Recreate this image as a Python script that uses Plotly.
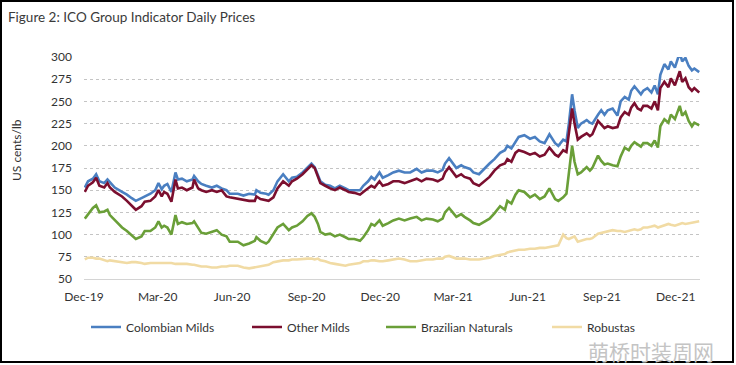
import plotly.graph_objects as go

# ---------------- data ----------------
dates = [
    "2019-12-02","2019-12-06","2019-12-12","2019-12-16","2019-12-20","2019-12-26","2019-12-30",
    "2020-01-02","2020-01-08","2020-01-17","2020-01-23","2020-01-29","2020-02-03","2020-02-10",
    "2020-02-14","2020-02-21","2020-02-27","2020-03-02","2020-03-06","2020-03-09","2020-03-13",
    "2020-03-18","2020-03-23","2020-03-26","2020-03-31","2020-04-06","2020-04-13","2020-04-15",
    "2020-04-20","2020-04-24","2020-04-30","2020-05-07","2020-05-13","2020-05-19","2020-05-25",
    "2020-05-29","2020-06-08","2020-06-15","2020-06-22","2020-06-29","2020-07-01","2020-07-06",
    "2020-07-13","2020-07-16","2020-07-22","2020-07-27","2020-08-03","2020-08-10","2020-08-14",
    "2020-08-20","2020-08-27","2020-09-02",
    "2020-09-07","2020-09-11","2020-09-15","2020-09-18","2020-09-24","2020-09-30","2020-10-06",
    "2020-10-12","2020-10-19","2020-10-23","2020-10-30","2020-11-06","2020-11-10","2020-11-16",
    "2020-11-20","2020-11-24","2020-11-30","2020-12-04","2020-12-11","2020-12-17","2020-12-24",
    "2020-12-31","2021-01-07","2021-01-15","2021-01-21","2021-01-27","2021-02-04","2021-02-10",
    "2021-02-16","2021-02-19","2021-02-24","2021-03-01","2021-03-05","2021-03-11","2021-03-15",
    "2021-03-22","2021-03-26","2021-04-02","2021-04-09","2021-04-15","2021-04-21","2021-04-28",
    "2021-05-04","2021-05-07","2021-05-12","2021-05-17","2021-05-21","2021-05-28","2021-06-04",
    "2021-06-10","2021-06-16",
    "2021-06-22","2021-06-28","2021-07-05","2021-07-09","2021-07-15","2021-07-19","2021-07-22",
    "2021-07-26","2021-07-29","2021-08-02","2021-08-06","2021-08-13","2021-08-17","2021-08-20",
    "2021-08-27","2021-08-31","2021-09-04","2021-09-08","2021-09-14","2021-09-20","2021-09-24",
    "2021-09-29","2021-10-04","2021-10-07","2021-10-11","2021-10-15","2021-10-19","2021-10-22",
    "2021-10-27","2021-11-01","2021-11-05","2021-11-09","2021-11-12","2021-11-17","2021-11-22",
    "2021-11-25","2021-11-30","2021-12-06","2021-12-09","2021-12-13","2021-12-17","2021-12-21",
    "2021-12-24","2021-12-30",
]

colombian_milds = [
    153,160,163,168,160,158,162,159,153,148,145,141,138,141,143,146,150,158,151,155,157,148,170,162,163,160,
    162,166,160,157,155,153,155,152,150,146,146,144,146,145,150,147,146,145,150,160,168,160,164,165,170,176,
    180,176,168,160,156,155,152,155,152,150,150,150,155,160,165,162,170,164,167,170,172,170,170,174,170,172,
    172,170,173,180,186,180,175,178,176,174,170,168,175,180,185,192,195,200,197,205,210,212,208,210,205,
    203,213,203,200,207,205,225,258,240,220,225,229,226,225,235,240,235,240,242,234,250,255,252,262,267,262,
    258,262,265,260,268,258,280,292,286,295,288,305,295,299,290,285,287,283,
]
other_milds = [
    148,155,159,164,155,153,158,153,148,143,138,133,128,132,137,138,143,150,143,148,146,137,162,152,153,150,
    153,162,152,150,148,150,148,150,143,142,140,139,138,138,143,140,138,138,142,152,160,155,160,163,168,174,
    178,175,165,158,155,152,150,153,150,148,147,145,148,152,155,153,160,155,157,160,160,158,160,163,160,163,
    162,160,163,170,176,170,165,168,165,163,158,155,160,165,172,178,180,185,182,192,195,193,190,192,188,
    190,198,190,188,195,193,215,242,225,207,210,214,211,213,228,224,220,222,220,221,232,238,235,243,248,242,
    240,245,245,242,250,240,265,272,266,276,268,284,272,276,266,262,265,260,
]
brazilian_naturals = [
    118,123,130,133,125,126,128,122,116,108,104,99,95,98,104,104,108,115,108,110,108,100,122,112,114,112,
    113,115,108,102,101,103,105,100,98,92,92,88,90,93,97,93,90,92,100,108,112,105,108,110,115,121,
    124,120,112,103,100,101,98,100,97,95,95,93,97,105,112,110,116,110,113,116,118,116,118,120,116,118,
    117,115,118,125,130,125,120,123,120,116,113,111,115,118,124,132,128,138,135,145,150,148,142,145,140,
    143,152,140,138,142,146,170,200,182,168,170,176,172,175,189,183,179,180,178,177,188,198,195,200,204,201,
    199,203,203,200,206,198,222,230,226,235,230,245,234,238,228,222,226,223,
]
robustas = [
    72,74,74,73,73,71,70,71,70,69,68,69,69,68,67,68,68,68,68,68,68,68,67,67,67,67,
    66,66,65,64,64,63,63,64,64,65,65,63,62,63,64,64,65,66,69,70,71,71,72,72,73,73,
    73,72,73,71,70,68,67,66,65,66,67,68,70,70,71,71,70,70,71,72,73,72,70,70,71,72,
    72,73,73,75,76,74,73,73,73,72,72,72,73,74,76,77,78,80,81,82,83,83,84,84,85,
    85,86,87,88,100,96,95,97,98,92,93,95,95,96,101,102,103,104,105,104,104,103,104,105,106,105,
    106,108,108,109,110,108,109,111,112,111,110,112,113,112,113,114,114,115,
]

series_names = ["Colombian Milds", "Other Milds", "Brazilian Naturals", "Robustas"]
y_ticks = [50, 75, 100, 125, 150, 175, 200, 225, 250, 275, 300]
x_tick_dates = ["2019-12-01","2020-03-01","2020-06-01","2020-09-01","2020-12-01",
                "2021-03-01","2021-06-01","2021-09-01","2021-12-01"]
x_tick_labels = ["Dec-19","Mar-20","Jun-20","Sep-20","Dec-20","Mar-21","Jun-21","Sep-21","Dec-21"]

# ---------------- styling ----------------
W, H = 736, 365
L, R, T, B = 84, 36, 57, 86
PW, PH = W - L - R, H - T - B
FONT = "Lato"
colors = ["#4a7fc1", "#7b0f2f", "#6a9f38", "#f1dba4"]
legend_line_x = [94, 255, 389, 555]
legend_y_px = 327


def px_x(px):
    return (px - L) / PW


def px_y(py):
    return (H - B - py) / PH


fig = go.Figure()
all_values = [colombian_milds, other_milds, brazilian_naturals, robustas]
legend_ids = ["legend", "legend2", "legend3", "legend4"]
for name, vals, col, lg in zip(series_names, all_values, colors, legend_ids):
    fig.add_trace(go.Scatter(
        x=dates, y=vals, name=name, mode="lines",
        line=dict(color=col, width=2.6), legend=lg,
    ))

legend_common = dict(
    orientation="h", xref="paper", yref="paper",
    yanchor="middle", xanchor="left", bgcolor="rgba(0,0,0,0)",
    font=dict(family=FONT, size=12, color="#333333"), borderwidth=0,
)
layout_legends = {}
for lg, lx in zip(legend_ids, legend_line_x):
    layout_legends[lg] = dict(legend_common, x=px_x(lx - 8), y=px_y(legend_y_px))

fig.update_layout(
    width=W, height=H,
    margin=dict(l=L, r=R, t=T, b=B, autoexpand=False),
    paper_bgcolor="white", plot_bgcolor="white",
    font=dict(family=FONT, size=12, color="#333333"),
    title=dict(text="Figure 2: ICO Group Indicator Daily Prices", x=8 / W, xref="container",
               y=1 - 17 / H, yref="container", xanchor="left", yanchor="middle",
               font=dict(family=FONT, size=13.5, color="#3a3a3a")),
    showlegend=True,
    **layout_legends,
)

fig.update_xaxes(
    type="date", range=["2019-12-01", "2021-12-31"],
    tickvals=x_tick_dates, ticktext=x_tick_labels,
    showgrid=False, showline=True, linecolor="#d4d4d4", linewidth=1,
    ticks="", ticklabelstandoff=7, tickfont=dict(family=FONT, size=12, color="#333333"),
    zeroline=False,
)
fig.update_yaxes(
    range=[50, 300], tickvals=y_ticks,
    showgrid=True, gridcolor="#c4c4c4", gridwidth=1, griddash="dot",
    showline=False, zeroline=False, ticks="", ticklabelstandoff=11,
    tickfont=dict(family=FONT, size=12, color="#333333"),
)

fig.add_annotation(
    text="US cents/lb", xref="paper", yref="paper", x=px_x(16), y=px_y(150),
    textangle=-90, showarrow=False, font=dict(family=FONT, size=12, color="#333333"),
    xanchor="center", yanchor="middle",
)
fig.add_annotation(
    text="萌桥时装周网", xref="paper", yref="paper", x=px_x(651), y=px_y(351),
    showarrow=False, font=dict(family="Noto Sans CJK SC", size=21, color="#c4c4c4"),
    xanchor="center", yanchor="middle", borderpad=0,
)
fig.add_shape(
    type="rect", xref="paper", yref="paper",
    x0=px_x(1), x1=px_x(733), y0=px_y(362), y1=px_y(1),
    line=dict(color="black", width=2), fillcolor="rgba(0,0,0,0)", layer="above",
)

fig.write_html("out.html", config={"displayModeBar": False},
               post_script="document.body.style.margin='0';")
